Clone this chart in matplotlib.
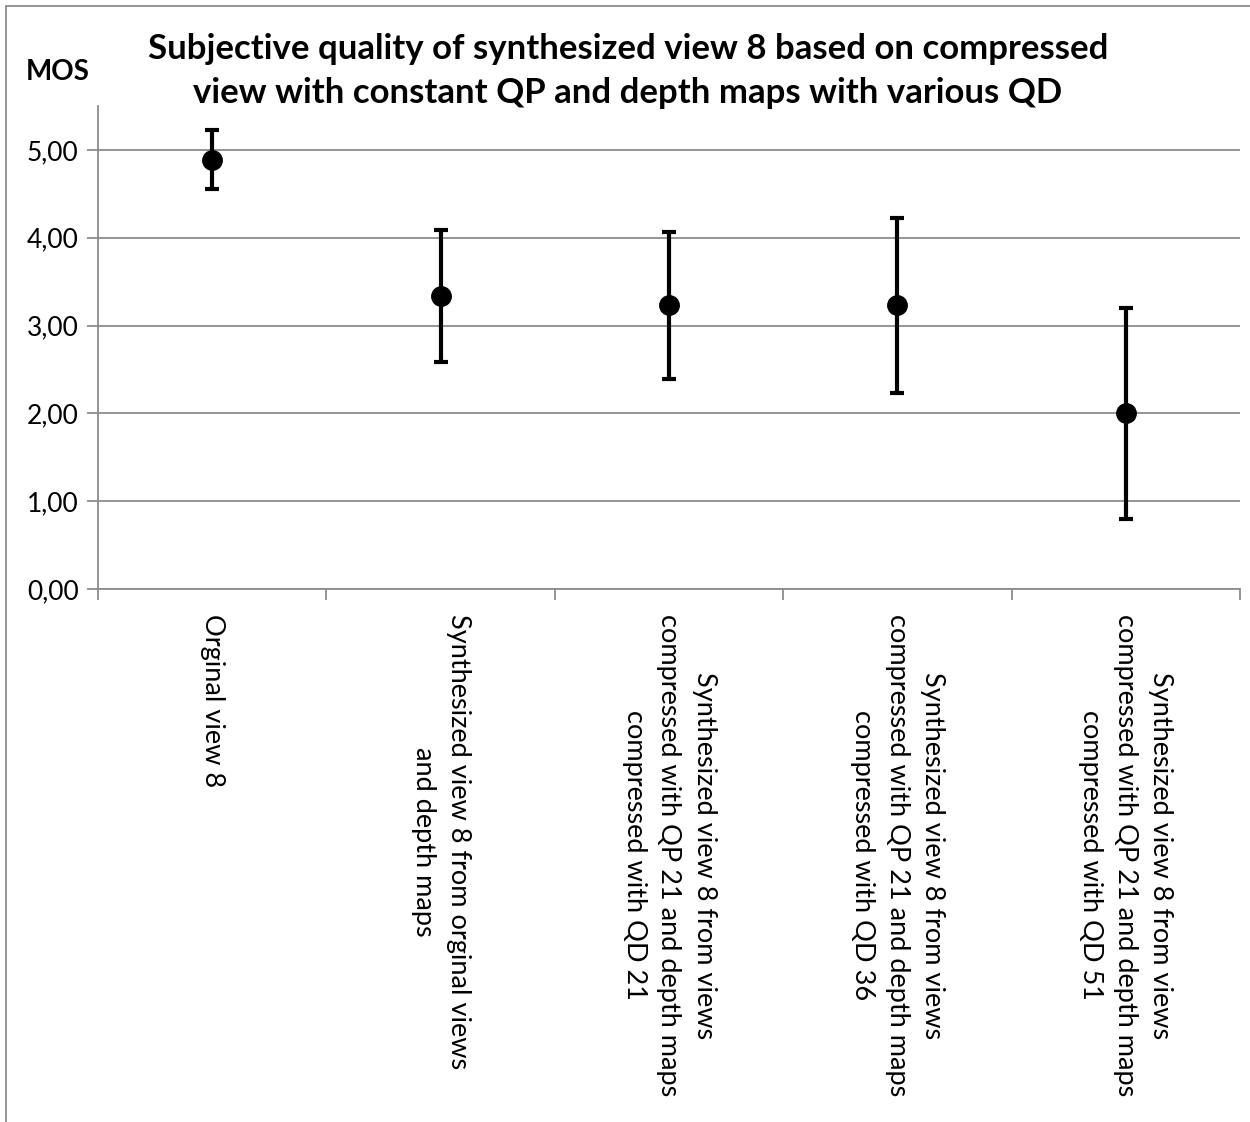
import numpy as np
import matplotlib.pyplot as plt
from matplotlib.patches import Rectangle

# Mean opinion scores with confidence intervals
categories = [
    'Orginal view 8',
    'Synthesized view 8 from orginal views\nand depth maps',
    'Synthesized view 8 from views\ncompressed with QP 21 and depth maps\ncompressed with QD 21',
    'Synthesized view 8 from views\ncompressed with QP 21 and depth maps\ncompressed with QD 36',
    'Synthesized view 8 from views\ncompressed with QP 21 and depth maps\ncompressed with QD 51',
]
mos = [4.89, 3.34, 3.23, 3.23, 2.00]
ci = [0.34, 0.75, 0.84, 1.00, 1.20]
yticks = [0, 1, 2, 3, 4, 5]
ytick_labels = ['0,00', '1,00', '2,00', '3,00', '4,00', '5,00']

plt.rcParams['font.family'] = ['Lato', 'DejaVu Sans']

fig = plt.figure(figsize=(12.5, 11.22), dpi=100)
ax = fig.add_axes([0.0784, 0.475, 0.9136, 0.4305])

x = np.arange(len(categories))
ax.errorbar(x, mos, yerr=ci, fmt='o', color='black', ecolor='black',
            markersize=14, elinewidth=3, capsize=5, capthick=3, zorder=3)

ax.set_xlim(-0.5, len(categories) - 0.5)
ax.set_ylim(0, 5.5)
ax.set_yticks(yticks)
ax.set_yticklabels(ytick_labels, fontsize=19)
ax.yaxis.grid(True, color='#8c8c8c', linewidth=1.3)
ax.set_axisbelow(True)

ax.set_xticks(x)
ax.set_xticklabels(categories, rotation=270, fontsize=19.5,
                   va='top', ha='center', multialignment='center',
                   linespacing=1.5)
ax.tick_params(axis='x', which='major', length=0, pad=18)
ax.set_xticks(np.arange(-0.5, len(categories)), minor=True)
ax.tick_params(axis='x', which='minor', length=8, color='#8c8c8c', width=1.3)
ax.tick_params(axis='y', length=8, color='#8c8c8c', width=1.3, pad=6)

for s in ['top', 'right']:
    ax.spines[s].set_visible(False)
for s in ['left', 'bottom']:
    ax.spines[s].set_color('#8c8c8c')
    ax.spines[s].set_linewidth(1.3)

fig.text(0.5024, 0.9367, 'Subjective quality of synthesized view 8 based on compressed\n'
         'view with constant QP and depth maps with various QD',
         ha='center', va='center', fontsize=25, fontweight='bold', linespacing=1.45)
fig.text(0.0464, 0.936, 'MOS', ha='center', va='center', fontsize=20, fontweight='bold')

# outer chart border
fig.patches.append(Rectangle((6 / 1250, -0.1), 1.2, 1 - 6 / 1122 + 0.1,
                             transform=fig.transFigure, fill=False,
                             edgecolor='#8c8c8c', linewidth=1.3))

fig.savefig('out.png', dpi=100)
